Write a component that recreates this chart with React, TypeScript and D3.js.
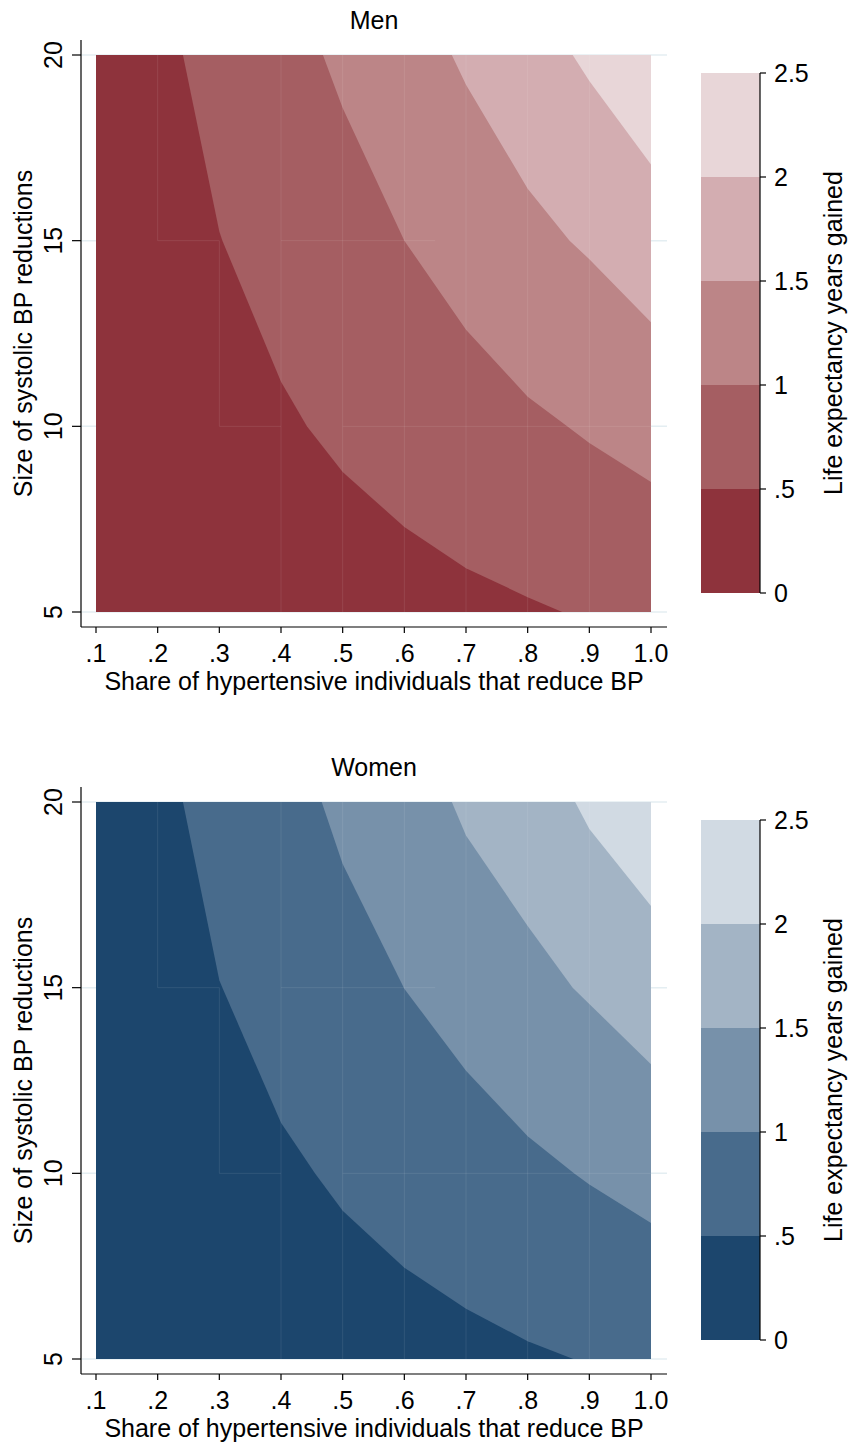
import React from "react";
import * as d3 from "d3";

// contour boundaries: [share, size of BP reduction]
const levels = [0, 0.5, 1, 1.5, 2, 2.5];
const xTicks = [0.1, 0.2, 0.3, 0.4, 0.5, 0.6, 0.7, 0.8, 0.9, 1.0];
const xTickLabels = [".1", ".2", ".3", ".4", ".5", ".6", ".7", ".8", ".9", "1.0"];
const yTicks = [5, 10, 15, 20];
const legendTickLabels = ["0", ".5", "1", "1.5", "2", "2.5"];

const men05 = [[0.241, 20], [0.3, 15.25], [0.305, 15], [0.4, 11.2], [0.442, 10], [0.5, 8.77], [0.6, 7.29], [0.7, 6.18], [0.8, 5.4], [0.856, 5]];
const men10 = [[0.468, 20], [0.5, 18.57], [0.6, 15.0], [0.7, 12.6], [0.8, 10.8], [0.864, 10], [0.9, 9.55], [1.0, 8.5]];
const men15 = [[0.677, 20], [0.7, 19.2], [0.8, 16.4], [0.868, 15], [0.9, 14.5], [1.0, 12.8]];
const men20 = [[0.873, 20], [0.9, 19.3], [1.0, 17.05]];

const women05 = [[0.241, 20], [0.3, 15.2], [0.305, 15], [0.4, 11.36], [0.455, 10], [0.5, 8.99], [0.6, 7.46], [0.7, 6.35], [0.8, 5.48], [0.874, 5]];
const women10 = [[0.466, 20], [0.5, 18.33], [0.6, 14.97], [0.7, 12.76], [0.8, 11.0], [0.875, 10], [0.9, 9.7], [1.0, 8.66]];
const women15 = [[0.677, 20], [0.7, 19.1], [0.8, 16.66], [0.873, 15], [0.9, 14.56], [1.0, 12.94]];
const women20 = [[0.877, 20], [0.9, 19.27], [1.0, 17.2]];

const menColors = ["#8e333c", "#a55e62", "#bc8587", "#d3adb1", "#e8d6d8"];
const womenColors = ["#1c466d", "#486b8c", "#7791aa", "#a3b4c5", "#d1dae3"];

// faint seams Stata leaves between contour pieces
const seamsV = [[0.2, 15, 20], [0.3, 10, 15], [0.4, 5, 20], [0.5, 5, 20], [0.6, 5, 20], [0.7, 5, 20], [0.8, 5, 20], [0.9, 5, 20]];
const seamsH = [[15, 0.2, 0.3], [15, 0.4, 0.65], [10, 0.3, 0.4], [10, 0.5, 1.0]];

const font = "'Liberation Sans', Arial, Helvetica, sans-serif";

const Panel = ({ top, title, contours, colors }) => {
  const x = d3.scaleLinear().domain([0.1, 1.0]).range([96, 651]);
  const y = d3.scaleLinear().domain([5, 20]).range([top + 557, top]);
  const ly = d3.scaleLinear().domain([0, 2.5]).range([top + 538, top + 18]);
  const line = d3.line().x(d => x(d[0])).y(d => y(d[1]));

  const region = pts => {
    const last = pts[pts.length - 1];
    const poly = pts.slice();
    if (last[1] === 5) poly.push([1.0, 5]);
    poly.push([1.0, 20]);
    return line(poly) + "Z";
  };

  const plotTop = top - 15;
  const plotBottom = top + 572;

  return (
    <g>
      <text x={374} y={top - 26} textAnchor="middle" fontSize={25}>{title}</text>
      {yTicks.map(t => (
        <line key={"g" + t} x1={81} x2={667} y1={y(t)} y2={y(t)} stroke="#e4eef2" strokeWidth={1.5} />
      ))}
      <rect x={x(0.1)} y={y(20)} width={x(1.0) - x(0.1)} height={y(5) - y(20)} fill={colors[0]} />
      {contours.map((c, i) => (
        <path key={i} d={region(c)} fill={colors[i + 1]} />
      ))}
      {seamsV.map((s, i) => (
        <line key={"sv" + i} x1={x(s[0])} x2={x(s[0])} y1={y(s[1])} y2={y(s[2])} stroke="#fff" strokeOpacity={0.09} />
      ))}
      {seamsH.map((s, i) => (
        <line key={"sh" + i} x1={x(s[1])} x2={x(s[2])} y1={y(s[0])} y2={y(s[0])} stroke="#fff" strokeOpacity={0.09} />
      ))}
      {/* axes */}
      <line x1={81} x2={81} y1={plotTop} y2={plotBottom} stroke="#000" strokeWidth={1.2} />
      <line x1={81} x2={667} y1={plotBottom} y2={plotBottom} stroke="#000" strokeWidth={1.2} />
      {yTicks.map(t => (
        <g key={"y" + t}>
          <line x1={72} x2={81} y1={y(t)} y2={y(t)} stroke="#000" strokeWidth={1.2} />
          <text transform={`translate(62,${y(t)}) rotate(-90)`} textAnchor="middle" fontSize={25}>{t}</text>
        </g>
      ))}
      {xTicks.map((t, i) => (
        <g key={"x" + t}>
          <line x1={x(t)} x2={x(t)} y1={plotBottom} y2={plotBottom + 6} stroke="#000" strokeWidth={1.2} />
          <text x={x(t)} y={plotBottom + 35} textAnchor="middle" fontSize={25}>{xTickLabels[i]}</text>
        </g>
      ))}
      <text x={374} y={plotBottom + 63} textAnchor="middle" fontSize={25}>Share of hypertensive individuals that reduce BP</text>
      <text transform={`translate(32,${(plotTop + plotBottom) / 2}) rotate(-90)`} textAnchor="middle" fontSize={25}>Size of systolic BP reductions</text>
      {/* legend */}
      {colors.map((c, i) => (
        <rect key={"l" + i} x={701} width={59} y={ly(levels[i + 1])} height={ly(levels[i]) - ly(levels[i + 1])} fill={c} />
      ))}
      <line x1={760} x2={760} y1={ly(0)} y2={ly(2.5)} stroke="#000" strokeWidth={1.2} />
      {levels.map((l, i) => (
        <g key={"lt" + i}>
          <line x1={760} x2={766} y1={ly(l)} y2={ly(l)} stroke="#000" strokeWidth={1.2} />
          <text x={774} y={ly(l)} dy="0.36em" fontSize={25}>{legendTickLabels[i]}</text>
        </g>
      ))}
      <text transform={`translate(842,${(ly(0) + ly(2.5)) / 2}) rotate(-90)`} textAnchor="middle" fontSize={25}>Life expectancy years gained</text>
    </g>
  );
};

const App = () => {
  return (
    <svg width={851} height={1444} style={{ position: "absolute", left: 0, top: 0, background: "#fff" }} fontFamily={font}>
      <rect width={851} height={1444} fill="#fff" />
      <Panel top={55} title="Men" contours={[men05, men10, men15, men20]} colors={menColors} />
      <Panel top={802} title="Women" contours={[women05, women10, women15, women20]} colors={womenColors} />
    </svg>
  );
};

export default App;
